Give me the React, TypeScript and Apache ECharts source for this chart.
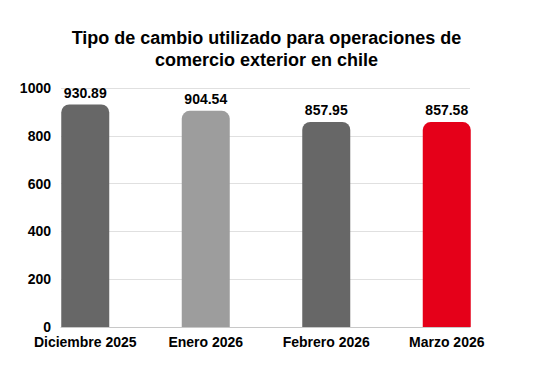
import React, { useEffect, useRef } from "react";
import * as echarts from "echarts";

const categories = ["Diciembre 2025", "Enero 2026", "Febrero 2026", "Marzo 2026"];
const values = [930.89, 904.54, 857.95, 857.58];
const barColors = ["#676767", "#9d9d9d", "#676767", "#e50019"];
const titleText = "Tipo de cambio utilizado para operaciones de\ncomercio exterior en chile";

export default function App() {
  const ref = useRef<HTMLDivElement>(null);
  useEffect(() => {
    if (!ref.current) return;
    const chart = echarts.init(ref.current, undefined, { renderer: "svg" });
    const font = "'Liberation Sans', Arial, sans-serif";
    chart.setOption({
      animation: false,
      backgroundColor: "#ffffff",
      title: {
        text: titleText,
        left: "center",
        top: 22,
        textStyle: {
          fontFamily: font,
          fontWeight: "bold",
          fontSize: 18,
          lineHeight: 22,
          color: "#000",
        },
      },
      grid: [
        { left: 61, right: 63, top: 88, bottom: 65 },
        { left: 25, right: 26, top: 88, bottom: 65 },
      ],
      xAxis: [
        {
          gridIndex: 0,
          type: "category",
          data: categories,
          axisLine: { show: true, lineStyle: { color: "#c8c8c8", width: 1 } },
          axisTick: { show: false },
          axisLabel: { show: false },
          splitLine: { show: false },
        },
        {
          gridIndex: 1,
          type: "category",
          data: categories,
          axisLine: { show: false },
          axisTick: { show: false },
          axisLabel: {
            interval: 0,
            margin: 8,
            fontFamily: font,
            fontWeight: "bold",
            fontSize: 14,
            color: "#000",
          },
        },
      ],
      yAxis: [
        {
          gridIndex: 0,
          type: "value",
          min: 0,
          max: 1000,
          interval: 200,
          axisLine: { show: false },
          axisTick: { show: false },
          axisLabel: {
            margin: 10,
            fontFamily: font,
            fontWeight: "bold",
            fontSize: 14,
            color: "#000",
            formatter: (v: number) => String(v),
          },
          splitLine: { show: true, lineStyle: { color: "#e0e0e0", width: 1 } },
        },
        {
          gridIndex: 1,
          type: "value",
          min: 0,
          max: 1000,
          interval: 200,
          show: false,
        },
      ],
      series: [
        {
          type: "bar",
          xAxisIndex: 1,
          yAxisIndex: 1,
          barWidth: 48,
          data: values.map((v, i) => ({
            value: v,
            itemStyle: { color: barColors[i], borderRadius: [8, 8, 0, 0] },
          })),
          label: {
            show: true,
            position: "top",
            distance: 5,
            fontFamily: font,
            fontWeight: "bold",
            fontSize: 14,
            color: "#000",
            formatter: (p: any) => p.value.toFixed(2),
          },
        },
      ],
    });
    return () => chart.dispose();
  }, []);
  return <div ref={ref} style={{ width: 533, height: 392, position: "absolute", left: 0, top: 0 }} />;
}
